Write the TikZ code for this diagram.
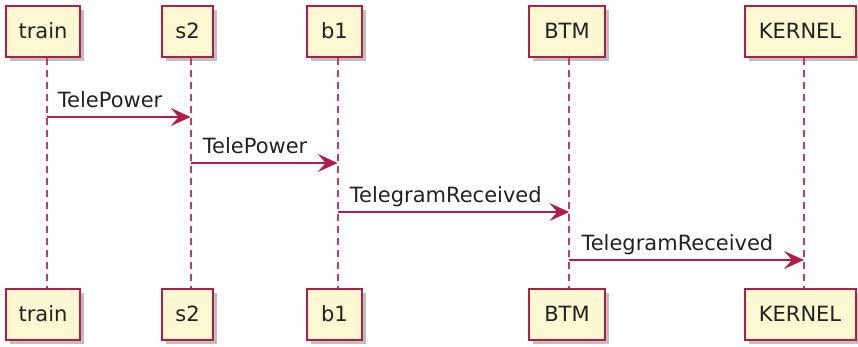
\documentclass[tikz,border=0pt]{standalone}
\usepackage{fontspec}
\setmainfont{DejaVu Sans}
\usetikzlibrary{arrows.meta,shadows}
\definecolor{pborder}{HTML}{B01E48}
\definecolor{pfill}{HTML}{FCF8D2}
\definecolor{ptext}{HTML}{222222}
\begin{document}
\begin{tikzpicture}[x=1pt,y=1pt,
  part/.style={draw=pborder, fill=pfill, line width=2pt, minimum height=51pt, inner sep=0pt,
    font=\fontsize{21}{25}\selectfont, text=ptext,
    drop shadow={shadow xshift=4pt, shadow yshift=-4pt, fill=black, opacity=0.25}},
  life/.style={draw=pborder!85, line width=1.8pt, dash pattern=on 7pt off 5pt},
  msg/.style={draw=pborder, line width=1.8pt, -{Stealth[length=20pt,width=18pt,inset=8pt]}},
  lbl/.style={font=\fontsize{21}{25}\selectfont, text=ptext, anchor=base west, inner sep=0pt}]
\useasboundingbox (0,0) rectangle (858,-346);
% top boxes
\node[part, minimum width=74pt]  (trainT)  at (43,-31)    {train};
\node[part, minimum width=51pt]  (s2T)     at (187.5,-31) {s2};
\node[part, minimum width=55pt]  (b1T)     at (334.5,-31) {b1};
\node[part, minimum width=76pt]  (btmT)    at (567,-31)   {BTM};
\node[part, minimum width=111pt] (kernelT) at (800,-31)   {KERNEL};
% bottom boxes
\node[part, minimum width=74pt]  (trainB)  at (43,-314)    {train};
\node[part, minimum width=51pt]  (s2B)     at (187.5,-314) {s2};
\node[part, minimum width=55pt]  (b1B)     at (334.5,-314) {b1};
\node[part, minimum width=76pt]  (btmB)    at (567,-314)   {BTM};
\node[part, minimum width=111pt] (kernelB) at (800,-314)   {KERNEL};
% lifeline x positions
\coordinate (trainL)  at (46.7,0);
\coordinate (s2L)     at (190.7,0);
\coordinate (b1L)     at (337.7,0);
\coordinate (btmL)    at (569.3,0);
\coordinate (kernelL) at (804,0);
% lifelines
\draw[life] (trainT.south -| trainL) -- (trainB.north -| trainL);
\draw[life] (s2T.south -| s2L) -- (s2B.north -| s2L);
\draw[life] (b1T.south -| b1L) -- (b1B.north -| b1L);
\draw[life] (btmT.south -| btmL) -- (btmB.north -| btmL);
\draw[life] (kernelT.south -| kernelL) -- (kernelB.north -| kernelL);
% messages
\coordinate (m1) at (0,-117);
\coordinate (m2) at (0,-163);
\coordinate (m3) at (0,-212);
\coordinate (m4) at (0,-260);
\draw[msg] (trainL |- m1) -- (s2L |- m1);
\node[lbl] (l1) at ([xshift=11pt,yshift=10pt]trainL |- m1) {TelePower};
\draw[msg] (s2L |- m2) -- (b1L |- m2);
\node[lbl] (l2) at ([xshift=12pt,yshift=10pt]s2L |- m2) {TelePower};
\draw[msg] (b1L |- m3) -- (btmL |- m3);
\node[lbl] (l3) at ([xshift=12pt,yshift=10pt]b1L |- m3) {TelegramReceived};
\draw[msg] (btmL |- m4) -- (kernelL |- m4);
\node[lbl] (l4) at ([xshift=12pt,yshift=10pt]btmL |- m4) {TelegramReceived};
\end{tikzpicture}
\end{document}
